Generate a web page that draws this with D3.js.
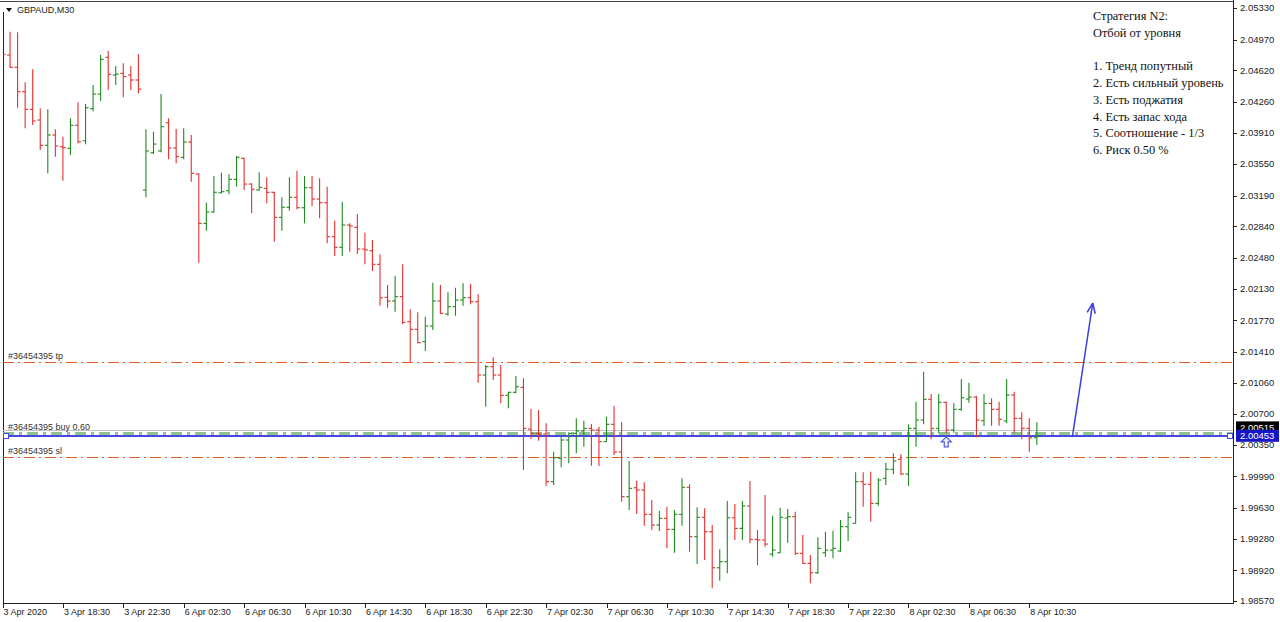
<!DOCTYPE html>
<html><head><meta charset="utf-8">
<script src="https://cdn.jsdelivr.net/npm/d3@7"></script>
<style>body{margin:0;background:#fff;overflow:hidden}svg{display:block}</style>
</head><body>
<svg id="c" width="1280" height="622"></svg>
<script>
const symbol = "GBPAUD,M30";
const opens = [2.05041,2.04794,2.04654,2.04376,2.04175,2.04053,2.03765,2.03882,2.03749,2.03730,
2.03993,2.03817,2.04182,2.04349,2.04768,2.04566,2.04585,2.04566,2.04509,2.03255,
2.03680,2.03700,2.04022,2.03734,2.03628,2.03802,2.03437,2.02875,2.03004,2.03224,
2.03247,2.03377,2.03616,2.03323,2.03255,2.03274,2.03229,2.02944,2.03058,2.03172,
2.03053,2.03281,2.03152,2.03110,2.02723,2.02602,2.02856,2.02830,2.02582,2.02563,
2.02408,2.02032,2.01990,2.02039,2.01754,2.01667,2.01526,2.01705,2.01990,2.01841,
2.01925,2.02001,2.02027,2.01982,2.01146,2.01241,2.01146,2.00915,2.00949,2.01006,
2.00530,2.00481,2.00473,1.99930,2.00196,2.00405,2.00481,2.00508,2.00538,2.00519,
2.00386,2.00584,2.00268,1.99759,1.99861,1.99835,1.99558,1.99436,1.99512,1.99387,
1.99558,1.99866,1.99303,1.99524,1.99360,1.98949,1.99018,1.99519,1.99398,1.99653,
1.99273,1.99265,1.99105,1.99120,1.99516,1.99531,1.99113,1.98999,1.98892,1.99120,
1.99150,1.99140,1.99417,1.99455,1.99930,1.99900,1.99683,1.99968,2.00071,2.00185,
2.00017,2.00538,2.00633,2.00869,2.00538,2.00835,2.00519,2.00755,2.00872,2.00895,
2.00625,2.00823,2.00755,2.00622,2.00918,2.00652,2.00538,2.00430];
const highs = [2.05048,2.05060,2.05053,2.04483,2.04631,2.04186,2.04175,2.03947,2.03863,2.04072,
2.04255,2.04235,2.04452,2.04794,2.04843,2.04669,2.04699,2.04669,2.04802,2.03947,
2.03920,2.04349,2.04072,2.03950,2.03958,2.03882,2.03445,2.03110,2.03415,2.03452,
2.03434,2.03643,2.03623,2.03331,2.03457,2.03400,2.03236,2.03172,2.03400,2.03475,
2.03415,2.03415,2.03388,2.03293,2.02905,2.03122,2.02875,2.02981,2.02768,2.02685,
2.02522,2.02172,2.02275,2.02408,2.01895,2.01861,2.01811,2.02198,2.02172,2.02089,
2.02141,2.02191,2.02183,2.02066,2.01260,2.01348,2.01260,2.00956,2.01135,2.01108,
2.00758,2.00747,2.00595,2.00272,2.00443,2.00490,2.00652,2.00625,2.00587,2.00557,
2.00671,2.00793,2.00607,2.00166,1.99941,1.99923,1.99721,1.99596,1.99645,1.99607,
1.99968,1.99900,1.99638,1.99626,1.99436,1.99159,1.99710,1.99675,1.99710,1.99938,
1.99379,1.99778,1.99542,1.99633,1.99618,1.99588,1.99322,1.99094,1.99296,1.99360,
1.99371,1.99493,1.99581,2.00037,2.00037,2.00044,1.99968,2.00146,2.00253,2.00242,
2.00584,2.00842,2.01184,2.00929,2.00929,2.00842,2.00823,2.01100,2.01058,2.00907,
2.00926,2.00880,2.00842,2.01100,2.00956,2.00721,2.00652,2.00607];
const lows = [2.04547,2.04649,2.04193,2.03958,2.03996,2.03711,2.03445,2.03635,2.03361,2.03654,
2.03787,2.03776,2.04152,2.04270,2.04395,2.04452,2.04312,2.04395,2.04357,2.03172,
2.03665,2.03685,2.03605,2.03559,2.03605,2.03350,2.02426,2.02791,2.02997,2.03217,
2.03206,2.03293,2.03255,2.02989,2.03247,2.03103,2.02666,2.02791,2.03019,2.03035,
2.02875,2.03073,2.02932,2.02647,2.02503,2.02503,2.02552,2.02525,2.02408,2.02332,
2.01936,2.01913,2.01868,2.01724,2.01291,2.01507,2.01420,2.01659,2.01841,2.01822,
2.01822,2.01936,2.01952,2.01058,2.00785,2.01089,2.00823,2.00766,2.00937,2.00063,
2.00416,2.00397,1.99884,1.99892,2.00094,2.00139,2.00253,2.00329,2.00112,2.00109,
2.00386,2.00234,1.99702,1.99607,1.99561,1.99428,1.99379,1.99368,1.99170,1.99120,
1.99428,1.99132,1.98991,1.99037,1.98714,1.98801,1.98885,1.99265,1.99265,1.99227,
1.98980,1.99189,1.99075,1.99113,1.99234,1.99094,1.98991,1.98771,1.98877,1.99075,
1.99056,1.99132,1.99254,1.99455,1.99645,1.99474,1.99656,1.99892,2.00014,2.00006,
1.99881,2.00329,2.00584,2.00413,2.00481,2.00481,2.00488,2.00739,2.00830,2.00436,
2.00565,2.00568,2.00568,2.00595,2.00481,2.00413,2.00272,2.00348];
const closes = [2.04802,2.04654,2.04376,2.04175,2.04042,2.03765,2.03882,2.03757,2.03737,2.03993,
2.03806,2.04193,2.04349,2.04745,2.04574,2.04577,2.04547,2.04509,2.04406,2.03700,
2.03779,2.03977,2.03734,2.03635,2.03802,2.03445,2.02875,2.03004,2.03229,2.03236,
2.03377,2.03628,2.03323,2.03263,2.03286,2.03229,2.02944,2.03058,2.03172,2.03053,
2.03281,2.03152,2.03110,2.02723,2.02602,2.02856,2.02845,2.02582,2.02571,2.02408,
2.02027,2.01990,2.02039,2.01747,2.01667,2.01514,2.01705,2.01990,2.01849,2.01925,
2.02001,2.02027,2.01982,2.01146,2.01241,2.01146,2.00915,2.00949,2.01013,2.00538,
2.00481,2.00473,1.99930,2.00203,2.00405,2.00481,2.00508,2.00538,2.00519,2.00386,
2.00584,2.00268,1.99759,1.99854,1.99835,1.99558,1.99436,1.99512,1.99387,1.99558,
1.99866,1.99303,1.99524,1.99360,1.98949,1.99018,1.99519,1.99398,1.99653,1.99273,
1.99265,1.99219,1.99151,1.99524,1.99531,1.99113,1.98999,1.98892,1.99170,1.99150,
1.99170,1.99417,1.99524,1.99930,1.99900,1.99683,1.99949,2.00071,2.00166,2.00017,
2.00538,2.00633,2.00869,2.00538,2.00835,2.00519,2.00755,2.00887,2.00895,2.00633,
2.00823,2.00755,2.00641,2.00918,2.00652,2.00538,2.00430,2.00453];
const timeLabels = ["3 Apr 2020","3 Apr 18:30","3 Apr 22:30","6 Apr 02:30","6 Apr 06:30","6 Apr 10:30",
"6 Apr 14:30","6 Apr 18:30","6 Apr 22:30","7 Apr 02:30","7 Apr 06:30","7 Apr 10:30","7 Apr 14:30",
"7 Apr 18:30","7 Apr 22:30","8 Apr 02:30","8 Apr 06:30","8 Apr 10:30"];
const barsPerLabel = 8;
const priceTicks = [2.05330,2.04970,2.04620,2.04260,2.03910,2.03550,2.03190,2.02840,2.02480,2.02130,
2.01770,2.01410,2.01060,2.00700,2.00350,1.99990,1.99630,1.99280,1.98920,1.98570];
const notes = ["Стратегия N2:","Отбой от уровня","","1. Тренд попутный","2. Есть сильный уровень",
"3. Есть поджатия","4. Есть запас хода","5. Соотношение - 1/3","6. Риск 0.50 %"];
const orderId = "#36454395";
const tpPrice = 2.01294, slPrice = 2.00211, entryPrice = 2.00480, bidPrice = 2.00453, askPrice = 2.00515;
const lotLabel = "buy 0.60";
const buyArrowBar = 125;
const trendArrowBars = [141.7, 144.4];
const trendArrowPrices = [2.00439, 2.01967];

const svg = d3.select("#c");
const L = 3, R = 1233, T = 2, B = 603;
const x = d3.scaleLinear().domain([0, 163]).range([2.5, 2.5 + 7.55 * 163]);
const y = d3.scaleLinear().domain([1.98570, 2.05330]).range([601, 8]);
const snap = v => Math.round(v) + 0.5;
const font = "'Liberation Sans', Arial, sans-serif";

svg.append("defs").append("clipPath").attr("id","clip")
  .append("rect").attr("x",L).attr("y",T).attr("width",R-L).attr("height",B-T);

// frame
svg.append("line").attr("x1",0).attr("x2",R).attr("y1",1.5).attr("y2",1.5).attr("stroke","#444");
svg.append("line").attr("x1",L+0.5).attr("x2",L+0.5).attr("y1",12).attr("y2",B).attr("stroke","#222");
svg.append("line").attr("x1",L).attr("x2",R+0.5).attr("y1",B+0.5).attr("y2",B+0.5).attr("stroke","#222");
svg.append("line").attr("x1",R+0.5).attr("x2",R+0.5).attr("y1",0).attr("y2",B+1).attr("stroke","#222");

const g = svg.append("g").attr("clip-path","url(#clip)");

// order lines
function hline(p, color, w, dash){
  const yy = w % 2 === 1 ? snap(y(p)) : Math.round(y(p));
  g.append("line").attr("x1",L).attr("x2",R).attr("y1",yy).attr("y2",yy)
    .attr("stroke",color).attr("stroke-width",w).attr("stroke-dasharray",dash||null);
}
hline(tpPrice, "#e25a22", 1, "11,4,2,4");
hline(slPrice, "#e25a22", 1, "11,4,2,4");
hline(askPrice, "#c4c4c4", 1);
hline(entryPrice, "#8cc48c", 3, "11,5,3,5");
hline(bidPrice, "#4848e0", 2);

// order labels
const ol = [[tpPrice, orderId + " tp"], [entryPrice, orderId + " " + lotLabel], [slPrice, orderId + " sl"]];
g.selectAll("text.ol").data(ol).join("text").attr("class","ol")
  .attr("x", 8).attr("y", d => y(d[0]) - 3)
  .attr("font-family", font).attr("font-size", 9).attr("fill","#333").text(d => d[1]);

// bid line end markers
[L+3, R-3].forEach(px => {
  g.append("rect").attr("x",px-2.5).attr("y",Math.round(y(bidPrice))-2.5).attr("width",5).attr("height",5)
   .attr("fill","#fff").attr("stroke","#4848e0").attr("stroke-width",1);
});

// bars
const bars = opens.map((o,i)=>({i, o, h:highs[i], l:lows[i], c:closes[i]}));
const col = d => d.c >= d.o ? "#1f8a1f" : "#e2302e";
const bg = g.append("g");
bg.selectAll("line.hl").data(bars).join("line").attr("class","hl")
  .attr("x1",d=>x(d.i)).attr("x2",d=>x(d.i)).attr("y1",d=>y(d.h)).attr("y2",d=>y(d.l))
  .attr("stroke",col).attr("stroke-width",1.1);
bg.selectAll("line.op").data(bars).join("line").attr("class","op")
  .attr("x1",d=>x(d.i)-3).attr("x2",d=>x(d.i)).attr("y1",d=>y(d.o)).attr("y2",d=>y(d.o))
  .attr("stroke",col).attr("stroke-width",1.1);
bg.selectAll("line.cl").data(bars).join("line").attr("class","cl")
  .attr("x1",d=>x(d.i)).attr("x2",d=>x(d.i)+3).attr("y1",d=>y(d.c)).attr("y2",d=>y(d.c))
  .attr("stroke",col).attr("stroke-width",1.1);

// buy arrow (hollow up arrow)
{
  const ax = x(buyArrowBar), ay = y(bidPrice) + 1;
  const p = [[0,0],[5,5],[2,5],[2,10],[-2,10],[-2,5],[-5,5]].map(q=>[ax+q[0], ay+q[1]]);
  g.append("path").attr("d", d3.line()(p) + "Z").attr("fill","#eef0ff").attr("stroke","#5060d8").attr("stroke-width",1.2);
}

// trend arrow
{
  const x1 = x(trendArrowBars[0]), y1 = y(trendArrowPrices[0]);
  const x2 = x(trendArrowBars[1]), y2 = y(trendArrowPrices[1]);
  const ang = Math.atan2(y2-y1, x2-x1), len = 11, spread = 0.38;
  g.append("line").attr("x1",x1).attr("y1",y1).attr("x2",x2).attr("y2",y2)
    .attr("stroke","#3c3ce0").attr("stroke-width",1.5);
  [ang+Math.PI-spread, ang+Math.PI+spread].forEach(a=>{
    g.append("line").attr("x1",x2).attr("y1",y2)
      .attr("x2",x2+len*Math.cos(a)).attr("y2",y2+len*Math.sin(a))
      .attr("stroke","#3c3ce0").attr("stroke-width",1.5);
  });
}

// price axis
const ya = svg.append("g");
ya.selectAll("line").data(priceTicks).join("line")
  .attr("x1",R).attr("x2",R+4).attr("y1",d=>snap(y(d))).attr("y2",d=>snap(y(d)))
  .attr("stroke","#222");
ya.selectAll("text").data(priceTicks).join("text")
  .attr("x",R+7).attr("y",d=>y(d)).attr("dy","0.35em")
  .attr("font-family",font).attr("font-size",9.5).attr("fill","#222")
  .text(d=>d.toFixed(5));

// price labels (ask label partly hidden behind bid label)
function priceBox(p, fill, yOff){
  const yy = y(p) + yOff;
  svg.append("rect").attr("x",R+3).attr("y",yy-6).attr("width",43).attr("height",12).attr("fill",fill);
  svg.append("text").attr("x",R+7).attr("y",yy).attr("dy","0.35em").attr("font-family",font)
    .attr("font-size",9.5).attr("fill","#fff").text(p.toFixed(5));
}
priceBox(askPrice, "#000", -3);
priceBox(bidPrice, "#1616c8", 0);

// time axis
const tl = timeLabels.map((t,k)=>({t, i:k*barsPerLabel}));
const xa = svg.append("g");
xa.selectAll("line").data(tl).join("line")
  .attr("x1",d=>snap(x(d.i))).attr("x2",d=>snap(x(d.i)))
  .attr("y1",B).attr("y2",B+5).attr("stroke","#222");
xa.selectAll("text").data(tl).join("text")
  .attr("x",d=>x(d.i)+1).attr("y",B+12)
  .attr("font-family",font).attr("font-size",9).attr("fill","#222").text(d=>d.t);

// title
svg.append("path").attr("d","M6,8L12,8L9,12Z").attr("fill","#111");
svg.append("text").attr("x",17).attr("y",13).attr("font-family",font).attr("font-size",9)
  .attr("fill","#222").text(symbol);

// notes
svg.append("g").selectAll("text").data(notes).join("text")
  .attr("x",1093).attr("y",(d,k)=>20 + k*16.75)
  .attr("font-family","'Liberation Serif','Times New Roman',serif").attr("font-size",12.4)
  .attr("fill","#111").text(d=>d);
</script>
</body></html>
